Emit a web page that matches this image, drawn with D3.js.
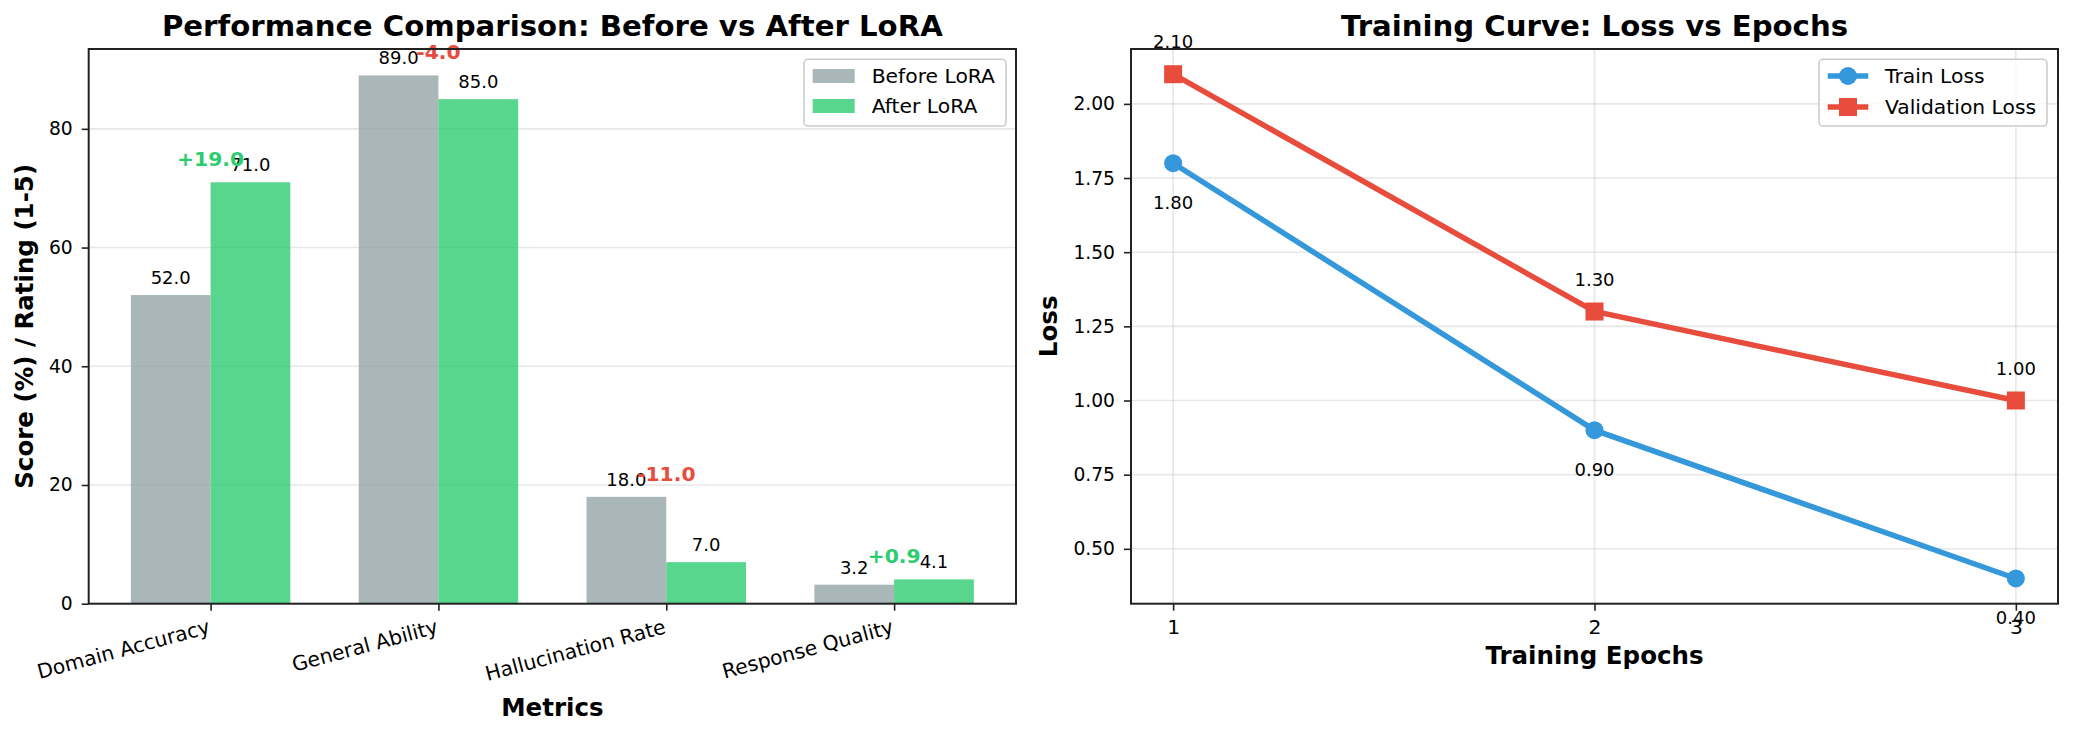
<!DOCTYPE html>
<html>
<head>
<meta charset="utf-8">
<title>LoRA: Performance Comparison and Training Curve</title>
<script src="https://d3js.org/d3.v7.min.js"></script>
<style>
  body { margin: 0; background: #fff; }
  text { font-family: "DejaVu Sans", sans-serif; }
</style>
</head>
<body>
<div id="chart"></div>
<script>
// values
var metrics = ["Domain Accuracy", "General Ability", "Hallucination Rate", "Response Quality"];
var beforeLora = [52.0, 89.0, 18.0, 3.2];
var afterLora = [71.0, 85.0, 7.0, 4.1];
var epochs = [1, 2, 3];
var trainLoss = [1.80, 0.90, 0.40];
var valLoss = [2.10, 1.30, 1.00];
var scoreTicks = [0, 20, 40, 60, 80];
var lossTicks = [0.50, 0.75, 1.00, 1.25, 1.50, 1.75, 2.00];

var width = 2073, height = 734;
var axTop = 49, axBottom = 603.7;
var grey = "#95a5a6", green = "#2ecc71", blue = "#3498db", red = "#e74c3c";

var svg = d3.select("#chart")
  .append("svg")
    .attr("width", width)
    .attr("height", height)
    .style("display", "block");
svg.append("rect").attr("width", width).attr("height", height).attr("fill", "#fff");

// small helper to style a d3 axis like matplotlib
function styleAxis(g, size) {
  g.select(".domain").remove();
  g.selectAll(".tick line").attr("stroke", "#222").attr("stroke-width", 1.6);
  g.selectAll(".tick text").attr("fill", "#000").style("font-size", size + "px")
    .style("font-family", "DejaVu Sans");
}

// ---------------- left: grouped bars ----------------
var barW = 0.35;
var lo = -barW, hi = metrics.length - 1 + barW, m = (hi - lo) * 0.05;
var xL = d3.scaleLinear().domain([lo - m, hi + m]).range([88.7, 1016]);
var yL = d3.scaleLinear()
  .domain([0, d3.max(beforeLora.concat(afterLora)) * 1.05])
  .range([axBottom, axTop]);

var left = svg.append("g");

// horizontal grid
left.selectAll("line.grid")
  .data(scoreTicks)
  .enter()
  .append("line")
    .attr("x1", xL.range()[0]).attr("x2", xL.range()[1])
    .attr("y1", function(d) { return yL(d); })
    .attr("y2", function(d) { return yL(d); })
    .attr("stroke", "#b0b0b0").attr("stroke-opacity", 0.3).attr("stroke-width", 1.6);

var bw = xL(barW) - xL(0);
left.selectAll("rect.before")
  .data(beforeLora)
  .enter()
  .append("rect")
    .attr("x", function(d, i) { return xL(i - barW); })
    .attr("y", function(d) { return yL(d); })
    .attr("width", bw)
    .attr("height", function(d) { return yL(0) - yL(d); })
    .attr("fill", grey).attr("fill-opacity", 0.8);

left.selectAll("rect.after")
  .data(afterLora)
  .enter()
  .append("rect")
    .attr("x", function(d, i) { return xL(i); })
    .attr("y", function(d) { return yL(d); })
    .attr("width", bw)
    .attr("height", function(d) { return yL(0) - yL(d); })
    .attr("fill", green).attr("fill-opacity", 0.8);

// value labels on top of bars
left.selectAll("text.vb")
  .data(beforeLora)
  .enter()
  .append("text")
    .attr("x", function(d, i) { return xL(i - barW / 2); })
    .attr("y", function(d) { return yL(d) - 11; })
    .attr("text-anchor", "middle")
    .style("font-size", "18px")
    .text(function(d) { return d.toFixed(1); });

left.selectAll("text.va")
  .data(afterLora)
  .enter()
  .append("text")
    .attr("x", function(d, i) { return xL(i + barW / 2); })
    .attr("y", function(d) { return yL(d) - 11; })
    .attr("text-anchor", "middle")
    .style("font-size", "18px")
    .text(function(d) { return d.toFixed(1); });

// improvement labels
left.selectAll("text.diff")
  .data(metrics)
  .enter()
  .append("text")
    .attr("x", function(d, i) { return xL(i); })
    .attr("y", function(d, i) { return yL(Math.max(beforeLora[i], afterLora[i])) - 16; })
    .attr("text-anchor", "middle")
    .style("font-size", "20.3px")
    .style("font-weight", "bold")
    .attr("fill", function(d, i) { return afterLora[i] - beforeLora[i] >= 0 ? green : red; })
    .text(function(d, i) {
      var diff = afterLora[i] - beforeLora[i];
      return (diff >= 0 ? "+" : "") + diff.toFixed(1);
    });

// axes
var yAxisL = left.append("g")
  .attr("transform", "translate(" + xL.range()[0] + ",0)")
  .call(d3.axisLeft(yL).tickValues(scoreTicks).tickSize(7).tickPadding(9));
styleAxis(yAxisL, 18.7);

var xAxisL = left.append("g")
  .attr("transform", "translate(0," + axBottom + ")")
  .call(d3.axisBottom(xL).tickValues(d3.range(metrics.length)).tickSize(7)
    .tickFormat(function(i) { return metrics[i]; }));
styleAxis(xAxisL, 20.3);
xAxisL.selectAll(".tick text")
  .attr("x", 0).attr("y", 0).attr("dy", "0.78em")
  .attr("text-anchor", "end")
  .attr("transform", "translate(-4,14) rotate(-15)");

left.append("rect")
  .attr("x", xL.range()[0]).attr("y", axTop)
  .attr("width", xL.range()[1] - xL.range()[0]).attr("height", axBottom - axTop)
  .attr("fill", "none").attr("stroke", "#222").attr("stroke-width", 2);

left.append("text")
  .attr("x", (xL.range()[0] + xL.range()[1]) / 2).attr("y", 36)
  .attr("text-anchor", "middle")
  .style("font-size", "29.2px").style("font-weight", "bold")
  .text("Performance Comparison: Before vs After LoRA");

left.append("text")
  .attr("x", (xL.range()[0] + xL.range()[1]) / 2).attr("y", 716)
  .attr("text-anchor", "middle")
  .style("font-size", "24.5px").style("font-weight", "bold")
  .text("Metrics");

left.append("text")
  .attr("transform", "translate(33," + (axTop + axBottom) / 2 + ") rotate(-90)")
  .attr("text-anchor", "middle")
  .style("font-size", "24.5px").style("font-weight", "bold")
  .text("Score (%) / Rating (1-5)");

// legend
var legL = left.append("g");
legL.append("rect")
  .attr("x", 804).attr("y", 59.3).attr("width", 202).attr("height", 66.7).attr("rx", 4)
  .attr("fill", "#fff").attr("fill-opacity", 0.8)
  .attr("stroke", "#cccccc").attr("stroke-width", 1.6);
[["Before LoRA", grey], ["After LoRA", green]].forEach(function(d, i) {
  legL.append("rect")
    .attr("x", 812.7).attr("y", 69 + i * 30).attr("width", 42).attr("height", 14)
    .attr("fill", d[1]).attr("fill-opacity", 0.8);
  legL.append("text")
    .attr("x", 871.7).attr("y", 76 + i * 30).attr("dy", "0.35em")
    .style("font-size", "20.3px")
    .text(d[0]);
});

// ---------------- right: loss curve ----------------
var xR = d3.scaleLinear().domain([0.9, 3.1]).range([1131, 2058]);
var allLoss = trainLoss.concat(valLoss);
var lmin = d3.min(allLoss), lmax = d3.max(allLoss), lm = (lmax - lmin) * 0.05;
var yR = d3.scaleLinear().domain([lmin - lm, lmax + lm]).range([axBottom, axTop]);

var right = svg.append("g");

right.selectAll("line.gy")
  .data(lossTicks)
  .enter()
  .append("line")
    .attr("x1", xR.range()[0]).attr("x2", xR.range()[1])
    .attr("y1", function(d) { return yR(d); })
    .attr("y2", function(d) { return yR(d); })
    .attr("stroke", "#b0b0b0").attr("stroke-opacity", 0.3).attr("stroke-width", 1.6);

right.selectAll("line.gx")
  .data(epochs)
  .enter()
  .append("line")
    .attr("x1", function(d) { return xR(d); })
    .attr("x2", function(d) { return xR(d); })
    .attr("y1", axTop).attr("y2", axBottom)
    .attr("stroke", "#b0b0b0").attr("stroke-opacity", 0.3).attr("stroke-width", 1.6);

var line = d3.line()
  .x(function(d, i) { return xR(epochs[i]); })
  .y(function(d) { return yR(d); });

right.append("path").datum(trainLoss)
  .attr("d", line).attr("fill", "none").attr("stroke", blue).attr("stroke-width", 5.5);
right.append("path").datum(valLoss)
  .attr("d", line).attr("fill", "none").attr("stroke", red).attr("stroke-width", 5.5);

right.selectAll("circle.tr")
  .data(trainLoss)
  .enter()
  .append("circle")
    .attr("cx", function(d, i) { return xR(epochs[i]); })
    .attr("cy", function(d) { return yR(d); })
    .attr("r", 9)
    .attr("fill", blue);

right.selectAll("rect.vl")
  .data(valLoss)
  .enter()
  .append("rect")
    .attr("x", function(d, i) { return xR(epochs[i]) - 9; })
    .attr("y", function(d) { return yR(d) - 9; })
    .attr("width", 18).attr("height", 18)
    .attr("fill", red);

right.selectAll("text.trl")
  .data(trainLoss)
  .enter()
  .append("text")
    .attr("x", function(d, i) { return xR(epochs[i]); })
    .attr("y", function(d) { return yR(d) + 46; })
    .attr("text-anchor", "middle")
    .style("font-size", "18px")
    .text(function(d) { return d.toFixed(2); });

right.selectAll("text.vll")
  .data(valLoss)
  .enter()
  .append("text")
    .attr("x", function(d, i) { return xR(epochs[i]); })
    .attr("y", function(d) { return yR(d) - 26; })
    .attr("text-anchor", "middle")
    .style("font-size", "18px")
    .text(function(d) { return d.toFixed(2); });

var yAxisR = right.append("g")
  .attr("transform", "translate(" + xR.range()[0] + ",0)")
  .call(d3.axisLeft(yR).tickValues(lossTicks).tickSize(7).tickPadding(9)
    .tickFormat(d3.format(".2f")));
styleAxis(yAxisR, 18.7);

var xAxisR = right.append("g")
  .attr("transform", "translate(0," + axBottom + ")")
  .call(d3.axisBottom(xR).tickValues(epochs).tickSize(7).tickPadding(9)
    .tickFormat(d3.format("d")));
styleAxis(xAxisR, 20.3);

right.append("rect")
  .attr("x", xR.range()[0]).attr("y", axTop)
  .attr("width", xR.range()[1] - xR.range()[0]).attr("height", axBottom - axTop)
  .attr("fill", "none").attr("stroke", "#222").attr("stroke-width", 2);

right.append("text")
  .attr("x", (xR.range()[0] + xR.range()[1]) / 2).attr("y", 36)
  .attr("text-anchor", "middle")
  .style("font-size", "29.2px").style("font-weight", "bold")
  .text("Training Curve: Loss vs Epochs");

right.append("text")
  .attr("x", (xR.range()[0] + xR.range()[1]) / 2).attr("y", 664)
  .attr("text-anchor", "middle")
  .style("font-size", "24.5px").style("font-weight", "bold")
  .text("Training Epochs");

right.append("text")
  .attr("transform", "translate(1057," + (axTop + axBottom) / 2 + ") rotate(-90)")
  .attr("text-anchor", "middle")
  .style("font-size", "24.5px").style("font-weight", "bold")
  .text("Loss");

// legend
var legR = right.append("g");
legR.append("rect")
  .attr("x", 1819).attr("y", 59.3).attr("width", 228).attr("height", 66.7).attr("rx", 4)
  .attr("fill", "#fff").attr("fill-opacity", 0.8)
  .attr("stroke", "#cccccc").attr("stroke-width", 1.6);
[["Train Loss", blue, "circle"], ["Validation Loss", red, "square"]].forEach(function(d, i) {
  var cy = 76 + i * 31;
  legR.append("line")
    .attr("x1", 1827.7).attr("x2", 1868.3).attr("y1", cy).attr("y2", cy)
    .attr("stroke", d[1]).attr("stroke-width", 5.5);
  if (d[2] == "circle") {
    legR.append("circle").attr("cx", 1848).attr("cy", cy).attr("r", 9).attr("fill", d[1]);
  } else {
    legR.append("rect").attr("x", 1839).attr("y", cy - 9).attr("width", 18).attr("height", 18)
      .attr("fill", d[1]);
  }
  legR.append("text")
    .attr("x", 1885).attr("y", cy).attr("dy", "0.35em")
    .style("font-size", "20.3px")
    .text(d[0]);
});
</script>
</body>
</html>
